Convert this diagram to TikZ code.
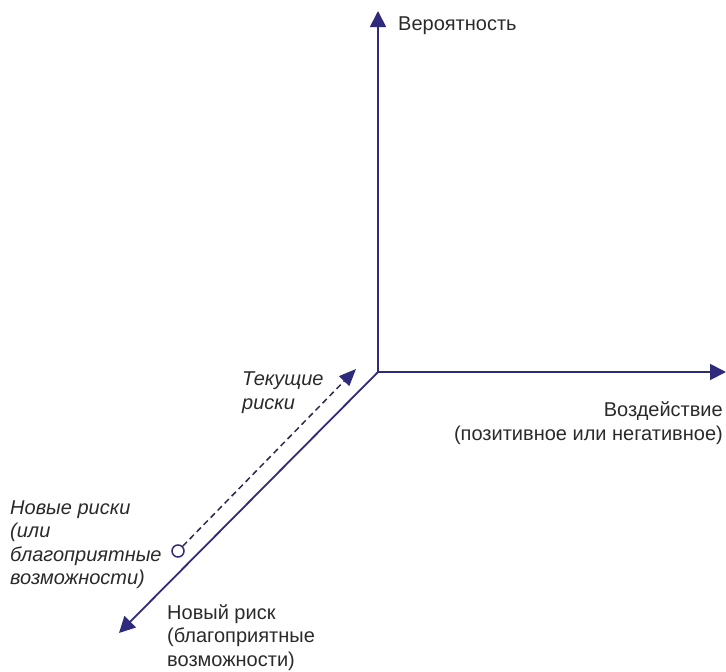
\documentclass[tikz,border=0pt]{standalone}
\usepackage{fontspec}
\setmainfont{Liberation Sans}
\usetikzlibrary{arrows.meta}
\definecolor{navy}{HTML}{2E2A7C}
\definecolor{txt}{HTML}{2A2A2A}
\tikzset{
  axis/.style={draw=navy, line width=1.8pt, -{Triangle[length=16pt,width=16pt]}},
  dashedarrow/.style={draw=txt!60!navy, line width=1.5pt, dash pattern=on 6pt off 4pt, -{Triangle[length=17pt,width=14pt,color=navy]}},
  lab/.style={font=\fontsize{20}{24}\selectfont, text=txt, inner sep=0pt, align=left},
  ilab/.style={lab, font=\fontsize{20}{23.5}\selectfont\itshape},
}
\begin{document}
\begin{tikzpicture}[x=1pt,y=-1pt]
\useasboundingbox (0,0) rectangle (726,672);
\coordinate (O) at (378,372);
\coordinate (Ytip) at (378,11);
\coordinate (Xtip) at (726,372);
\coordinate (Ztip) at (119,633);
\draw[axis] (O) -- (Ytip);
\draw[axis] (O) -- (Xtip);
\draw[axis] (O) -- (Ztip);
\node[circle, draw=navy, line width=1.5pt, minimum size=12pt, inner sep=0pt] (c) at (178,551) {};
\coordinate (D) at (356,369);
\draw[dashedarrow] (c) -- (D);
\node[lab, anchor=base west] (prob) at (398,30) {Вероятность};
\node[lab, anchor=north east, align=right] (impact) at (723,401) {Воздействие\\(позитивное или негативное)};
\node[ilab, anchor=north west] (cur) at (242,372) {Текущие\\риски};
\node[ilab, anchor=north west] (newr) at (10,500.5) {Новые риски\\(или\\благоприятные\\возможности)};
\node[lab, anchor=north west, font=\fontsize{20}{23.5}\selectfont] (newone) at (167,604) {Новый риск\\(благоприятные\\возможности)};
\end{tikzpicture}
\end{document}
